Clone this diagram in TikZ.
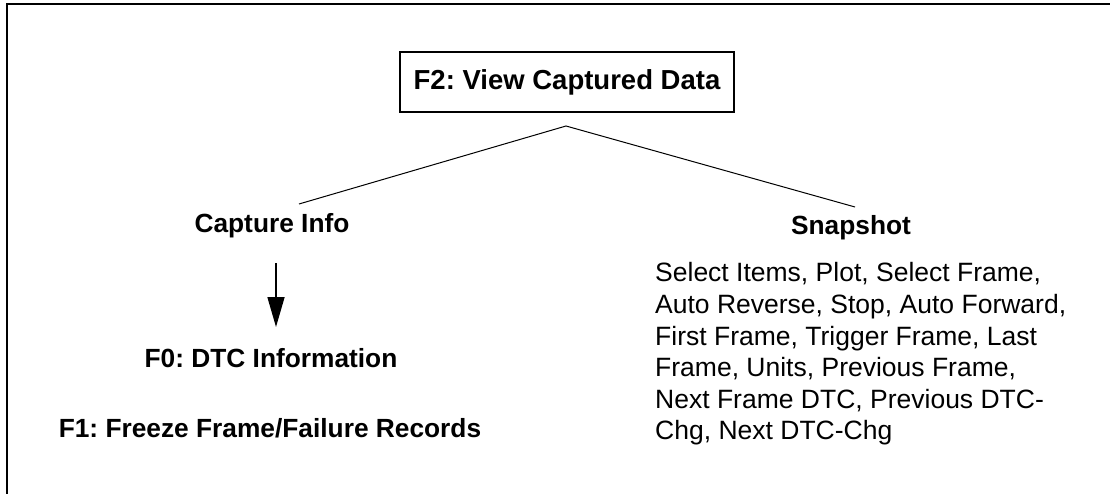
\documentclass[tikz,border=0pt]{standalone}
\usepackage{fontspec}
\setmainfont{Liberation Sans}
\usetikzlibrary{arrows.meta}
\frenchspacing
\begin{document}
\begin{tikzpicture}[x=1pt,y=-1pt,
  lbl/.style={font=\bfseries\fontsize{26.3}{31.6}\selectfont, inner sep=0pt, anchor=base},
  titlebox/.style={draw, line width=1.8pt, minimum width=334pt, minimum height=60pt, inner sep=0pt,
    font=\bfseries\fontsize{27.5}{33}\selectfont},
  listtxt/.style={font=\fontsize{26.5}{31.6}\selectfont, inner sep=0pt, align=left, anchor=north west},
  conn/.style={line width=1pt},
  arr/.style={line width=1.6pt, -{Triangle[length=30pt,width=17pt]}},
  frameline/.style={line width=2pt}]
\useasboundingbox (0,0) rectangle (1110,494);
\draw[frameline] (7,494) -- (7,4) -- (1110,4);

\node[titlebox] (f2) at (567,82) {F2: View Captured Data};
\coordinate (apex) at (566,126);
\node[lbl] (cap) at (272,233) {Capture Info};
\node[lbl] (snap) at (851,235) {Snapshot};
\coordinate (lend) at (299,204);
\coordinate (rend) at (855,207);
\draw[conn] (lend) -- (apex) -- (rend);

\coordinate (astart) at (276,263);
\coordinate (aend) at (276,327);
\draw[arr] (astart) -- (aend);

\node[lbl] (f0) at (271,367) {F0: DTC Information};
\node[lbl] (f1) at (270,437) {F1: Freeze Frame/Failure Records};

\node[listtxt] (list) at (655,262.5) {Select Items, Plot, Select Frame,\\Auto Reverse, Stop, Auto Forward,\\First Frame, Trigger Frame, Last\\Frame, Units, Previous Frame,\\Next Frame DTC, Previous DTC-\\Chg, Next DTC-Chg};
\end{tikzpicture}
\end{document}
